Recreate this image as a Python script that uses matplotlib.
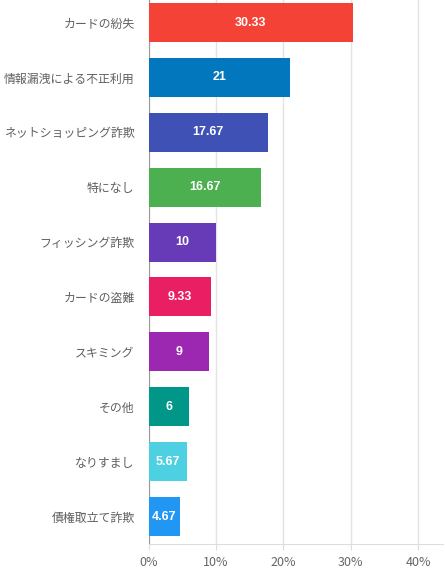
import matplotlib
matplotlib.use("Agg")
from matplotlib import pyplot as plt

plt.rcParams['font.family'] = ['Noto Sans CJK JP', 'DejaVu Sans']

categories = ["カードの紛失", "情報漏洩による不正利用", "ネットショッピング詐欺", "特になし",
              "フィッシング詐欺", "カードの盗難", "スキミング", "その他", "なりすまし", "債権取立て詐欺"]
values = [30.33, 21, 17.67, 16.67, 10, 9.33, 9, 6, 5.67, 4.67]
value_labels = ["30.33", "21", "17.67", "16.67", "10", "9.33", "9", "6", "5.67", "4.67"]
colors = ["#F44336", "#0277BD", "#3F51B5", "#4CAF50", "#673AB7",
          "#E91E63", "#9C27B0", "#009688", "#4DD0E1", "#2196F3"]
x_ticks = [0, 10, 20, 30, 40]


def main():
    fig = plt.figure(figsize=(4.45, 5.74), dpi=100)
    ax = fig.add_axes([148.5 / 445, 30 / 574, (443 - 148.5) / 445, 544 / 574])

    pos = list(range(len(categories)))
    ax.barh(pos, values, height=0.71, color=colors, zorder=3)
    for p, v, lab in zip(pos, values, value_labels):
        ax.text(v / 2, p, lab, ha='center', va='center', color='white',
                fontsize=9, fontweight='bold', family='Liberation Sans', zorder=4)

    ax.set_ylim(9.5, -0.41)
    ax.set_xlim(0, 43.7)
    ax.set_yticks(pos)
    ax.set_yticklabels(categories, fontsize=8.6, color='#5f5f5f')
    ax.set_xticks(x_ticks)
    ax.set_xticklabels([f"{t}%" for t in x_ticks], fontsize=9, color='#666666')
    ax.tick_params(axis='y', length=0, pad=10)
    ax.tick_params(axis='x', length=4, color='#dddddd', pad=5)
    ax.grid(axis='x', color='#e3e3e3', linewidth=1, zorder=0)

    for s in ['top', 'right']:
        ax.spines[s].set_visible(False)
    ax.spines['left'].set_color('#999999')
    ax.spines['bottom'].set_color('#dddddd')

    fig.savefig("out.png", dpi=100)


main()
